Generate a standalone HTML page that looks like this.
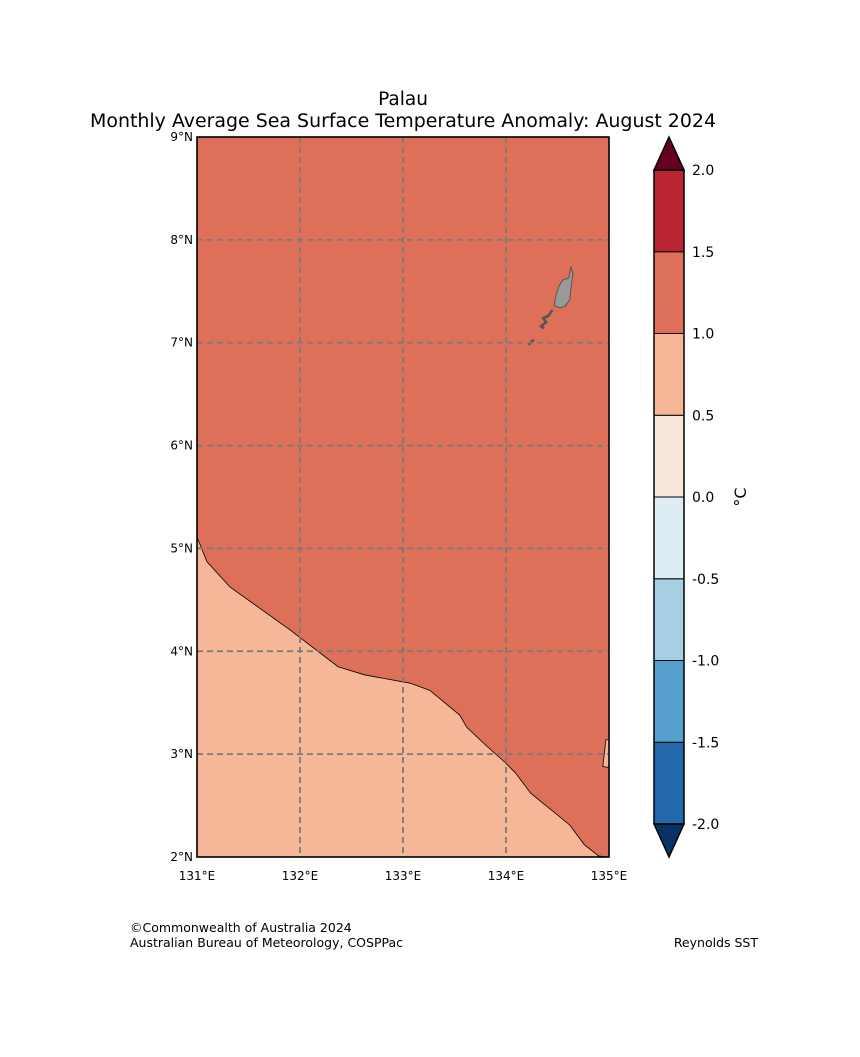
<!DOCTYPE html>
<html><head><meta charset="utf-8"><style>
body{margin:0;background:#fff;font-family:"Liberation Sans","DejaVu Sans",sans-serif}
</style></head><body>
<svg width="860" height="1052" xmlns="http://www.w3.org/2000/svg" font-family="'DejaVu Sans','Liberation Sans',sans-serif">
<text x="403" y="105" font-size="18.5" text-anchor="middle">Palau</text>
<text x="403" y="127" font-size="18.5" text-anchor="middle" textLength="626" lengthAdjust="spacingAndGlyphs">Monthly Average Sea Surface Temperature Anomaly: August 2024</text>
<g id="map"></g>
<g id="cbar"></g>
<text x="130" y="932" font-size="12.5">©Commonwealth of Australia 2024</text>
<text x="130" y="947" font-size="12.5">Australian Bureau of Meteorology, COSPPac</text>
<text x="758" y="947" font-size="12.5" text-anchor="end">Reynolds SST</text>
</svg>
<script>
const lonTicks=[131,132,133,134,135];
const latTicks=[2,3,4,5,6,7,8,9];
const contourLon=[131,131.097,131.32,131.9,132.37,132.63,133.07,133.26,133.55,133.62,133.8,133.99,134.09,134.24,134.62,134.76,134.9,135];
const contourLat=[5.11,4.87,4.625,4.21,3.85,3.77,3.69,3.62,3.38,3.26,3.09,2.92,2.82,2.62,2.31,2.12,2.01,2.0];
const patchLon=[134.97,134.94,135,135];
const patchLat=[3.14,2.88,2.87,3.14];
const islandLon=[134.63,134.65,134.63,134.62,134.57,134.52,134.47,134.48,134.51,134.55,134.61];
const islandLat=[7.74,7.67,7.52,7.42,7.35,7.34,7.36,7.44,7.54,7.61,7.63];
const chainLon=[134.45,134.41,134.36,134.39,134.34,134.37];
const chainLat=[7.32,7.26,7.24,7.20,7.16,7.14];
const smallLon=[134.22,134.27];
const smallLat=[6.98,7.03];
const cbLevels=[-2,-1.5,-1,-0.5,0,0.5,1,1.5,2];
const cbColors=['#2468ae','#559fcc','#a8d0e4','#deecf3','#f9e6dc','#f6b799','#de7059','#b92532'];
const NS='http://www.w3.org/2000/svg';
const X0=197,X1=609,Y0=137,Y1=857;
const xs=lon=>X0+(lon-131)/(135-131)*(X1-X0);
const ys=lat=>Y1-(lat-2)/(9-2)*(Y1-Y0);
function mk(t,a,p){const e=document.createElementNS(NS,t);for(const k in a)e.setAttribute(k,a[k]);p.appendChild(e);return e;}
const map=document.getElementById('map');
const bg=mk('rect',{x:X0,y:Y0,width:X1-X0,height:Y1-Y0,fill:'#de7059'},map);


let d='M'+contourLon.map((l,i)=>xs(l)+','+ys(contourLat[i])).join(' L')+' L'+X0+','+Y1+' Z';
const cool=mk('path',{d:d,fill:'#f6b799',stroke:'#000','stroke-width':0.8},map);


const patch=mk('path',{d:'M'+patchLon.map((l,i)=>xs(l)+','+ys(patchLat[i])).join(' L')+' Z',fill:'#f6b799',stroke:'#000','stroke-width':0.8},map);


function poly(lo,la,closed,name){const p=mk('path',{d:'M'+lo.map((l,i)=>xs(l)+','+ys(la[i])).join(' L')+(closed?' Z':''),fill:closed?'#999':'none',stroke:'#555','stroke-width':closed?1:2.5},map);

}
poly(islandLon,islandLat,true,'palau-main-island');
poly(chainLon,chainLat,false,'palau-island-chain');
poly(smallLon,smallLat,false,'angaur-island');
lonTicks.forEach(l=>{if(l>131&&l<135){const g=mk('line',{x1:xs(l),x2:xs(l),y1:Y0,y2:Y1,stroke:'#7a7a7a','stroke-width':1.8,'stroke-dasharray':'6,4'},map);

}
const t=mk('text',{x:xs(l),y:Y1+23,'font-size':12,'text-anchor':'middle'},map);t.textContent=l+'°E';

});
latTicks.forEach(l=>{if(l>2&&l<9){const g=mk('line',{x1:X0,x2:X1,y1:ys(l),y2:ys(l),stroke:'#7a7a7a','stroke-width':1.8,'stroke-dasharray':'6,4'},map);

}
const t=mk('text',{x:X0-4,y:ys(l)+4,'font-size':12,'text-anchor':'end'},map);t.textContent=l+'°N';

});
const fr=mk('rect',{x:X0,y:Y0,width:X1-X0,height:Y1-Y0,fill:'none',stroke:'#000','stroke-width':1.6},map);


const cb=document.getElementById('cbar');
const CX0=654,CX1=684,CT=170,CB=824;
const cy=v=>CB-(v-cbLevels[0])/(cbLevels[cbLevels.length-1]-cbLevels[0])*(CB-CT);
cbColors.forEach((c,i)=>{const r=mk('rect',{x:CX0,y:cy(cbLevels[i+1]),width:CX1-CX0,height:cy(cbLevels[i])-cy(cbLevels[i+1]),fill:c,stroke:'#000','stroke-width':1},cb);

});
const up=mk('path',{d:`M${CX0},${CT} L${(CX0+CX1)/2},137 L${CX1},${CT} Z`,fill:'#67001f',stroke:'#000','stroke-width':1.5},cb);


const dn=mk('path',{d:`M${CX0},${CB} L${(CX0+CX1)/2},857 L${CX1},${CB} Z`,fill:'#083366',stroke:'#000','stroke-width':1.5},cb);


const ob=mk('path',{d:`M${CX0},${CT} L${CX1},${CT} L${CX1},${CB} L${CX0},${CB} Z`,fill:'none',stroke:'#000','stroke-width':1.5},cb);


cbLevels.forEach(v=>{const t=mk('text',{x:692,y:cy(v)+5,'font-size':14},cb);t.textContent=v.toFixed(1);

});
const u=mk('text',{x:740,y:497,'font-size':16,'text-anchor':'middle',transform:'rotate(-90 740 497)',dy:'6'},cb);u.textContent='°C';


</script>
</body></html>
